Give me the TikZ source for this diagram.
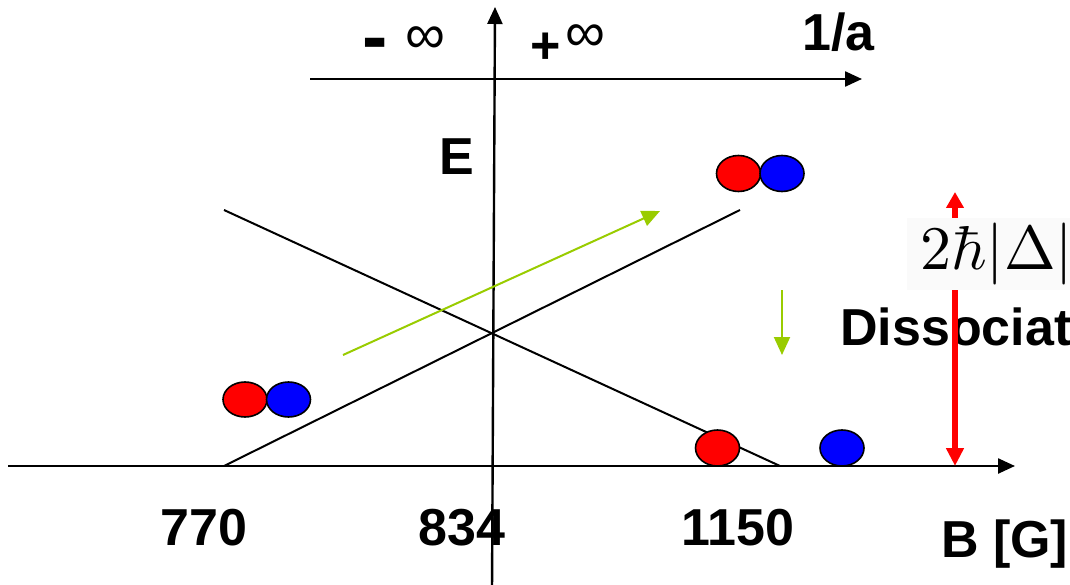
\documentclass[tikz,border=0pt]{standalone}
\usepackage[no-math]{fontspec}
\setmainfont{Liberation Sans}
\usetikzlibrary{arrows.meta,positioning,shapes.geometric}
\definecolor{sweepgreen}{RGB}{153,204,0}
\definecolor{boxgray}{RGB}{250,250,250}
\tikzset{
  daxis/.style={-{Triangle[length=17pt,width=15pt]}, line width=2.4pt},
  dlevel/.style={line width=2pt},
  dsweep/.style={-{Triangle[length=18pt,width=16pt]}, line width=2pt, sweepgreen},
  dgap/.style={{Triangle[length=16pt,width=17pt]}-{Triangle[length=18pt,width=17pt]}, line width=5.5pt, red},
  datom/.style={draw, ellipse, line width=1.6pt, minimum width=44pt, minimum height=36pt, inner sep=0pt},
  dlabel/.style={font=\bfseries\fontsize{52}{60}\selectfont, inner sep=0pt, anchor=base west},
  dinf/.style={font=\fontsize{56}{60}\selectfont, inner sep=0pt, anchor=base west},
  dgaplabel/.style={fill=boxgray, anchor=west, minimum height=72pt, inner xsep=0pt, inner ysep=0pt}
}

\begin{document}
\begin{tikzpicture}[x=1pt,y=-1pt]
\useasboundingbox (0,0) rectangle (1070,585);
\clip (0,0) rectangle (1070,585);

% axes
\coordinate (ta0) at (310,79);
\coordinate (ta1) at (862,79);
\coordinate (va0) at (492,590);
\coordinate (va1) at (495,7);
\coordinate (ba0) at (8,466);
\coordinate (ba1) at (1015,466);
\draw[daxis] (ta0) -- (ta1);
\draw[daxis] (va0) -- (va1);
\draw[daxis] (ba0) -- (ba1);

% crossing levels
\coordinate (la0) at (224,210);
\coordinate (la1) at (780,466);
\coordinate (lb0) at (224,466);
\coordinate (lb1) at (740,210);
\draw[dlevel] (la0) -- (la1);
\draw[dlevel] (lb0) -- (lb1);

% sweep arrows
\coordinate (sw0) at (343,355);
\coordinate (sw1) at (660,211);
\coordinate (dn0) at (782,290);
\coordinate (dn1) at (782,355);
\draw[dsweep] (sw0) -- (sw1);
\draw[dsweep] (dn0) -- (dn1);

% atoms
\node[datom, fill=red] (mola) at (738.5,173.5) {};
\node[datom, fill=blue] (molb) at (782,173.5) {};
\node[datom, fill=red, minimum height=35pt] (pra) at (245,399.5) {};
\node[datom, fill=blue, minimum height=35pt] (prb) at (288.5,399.5) {};
\node[datom, fill=red] (fra) at (717.5,448) {};
\node[datom, fill=blue] (frb) at (842,448) {};

% labels
\node[dlabel, font=\bfseries\fontsize{76}{80}\selectfont] (mminus) at (362,63) {-};
\node[dinf] (minf) at (405,54) {∞};
\node[dlabel] (pinf) at (530,64) {+\hspace{5pt}\raisebox{12pt}{\fontsize{56}{60}\mdseries ∞}};
\node[dlabel] (inva) at (802,51) {1/a};
\node[dlabel] (elab) at (439,175) {E};
\node[dlabel] (b770) at (160,545) {770};
\node[dlabel] (b834) at (418,545) {834};
\node[dlabel] (b1150) at (681,545) {1150};
\node[dlabel] (bunit) at (941,557) {B [G]};
\node[dlabel] (diss) at (840,345) {Dissociat};

% gap
\coordinate (gtop) at (955,192);
\coordinate (gbot) at (955,466);
\draw[dgap] (gtop) -- (gbot);
\node[dgaplabel] (gaplab) at (907,254) {\hspace{13pt}\scalebox{6.2}{$2\hbar|\Delta|$}};
\end{tikzpicture}
\end{document}
